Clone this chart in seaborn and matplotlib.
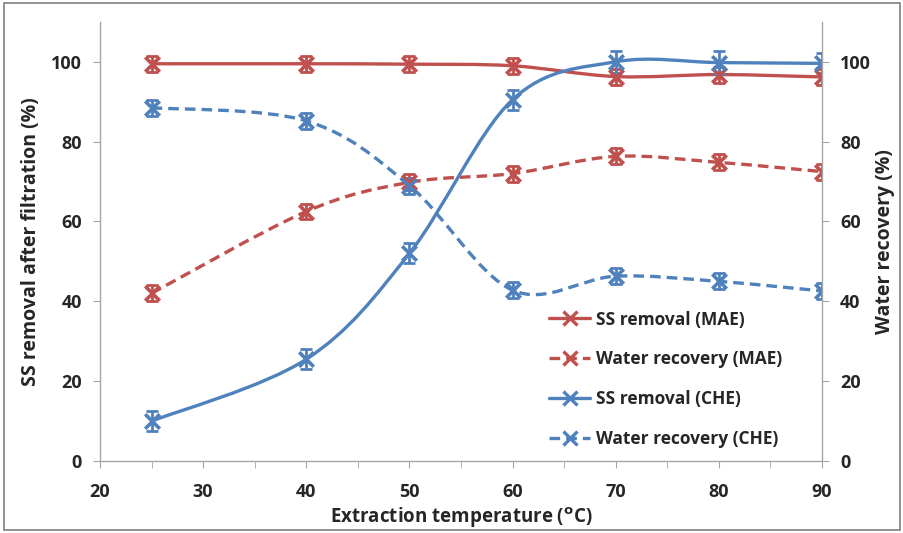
import numpy as np
import seaborn as sns
import matplotlib
matplotlib.use("Agg")
import matplotlib.pyplot as plt
from matplotlib.path import Path
from matplotlib.patches import PathPatch, Rectangle
from matplotlib.lines import Line2D

# values
temperature = [25, 40, 50, 60, 70, 80, 90]
ss_mae = [99.5, 99.5, 99.4, 99.0, 96.3, 96.8, 96.2]
water_mae = [42.0, 62.5, 69.8, 72.0, 76.3, 74.8, 72.5]
ss_che = [10.0, 25.5, 52.0, 90.5, 100.0, 99.8, 99.6]
water_che = [88.5, 85.2, 69.0, 42.8, 46.3, 45.0, 42.6]
err_ss_mae = [2.0, 2.0, 2.0, 2.0, 2.0, 2.0, 2.0]
err_water_mae = [2.0, 2.0, 2.0, 2.0, 2.0, 2.0, 2.0]
err_ss_che = [2.5, 2.5, 2.5, 2.5, 2.8, 2.8, 2.5]
err_water_che = [2.0, 2.0, 2.0, 2.0, 2.0, 2.0, 2.0]

labels = ["SS removal (MAE)", "Water recovery (MAE)",
          "SS removal (CHE)", "Water recovery (CHE)"]

RED = "#C0504D"
BLUE = "#4F81BD"
DASH = (3.2, 1.8)


def smooth_path(x, y):
    """Excel-like smoothed line built from bezier segments."""
    pts = np.column_stack([x, y]).astype(float)
    verts = [pts[0]]
    codes = [Path.MOVETO]
    n = len(pts)
    for i in range(n - 1):
        p0 = pts[max(i - 1, 0)]
        p1 = pts[i]
        p2 = pts[i + 1]
        p3 = pts[min(i + 2, n - 1)]
        verts += [p1 + (p2 - p0) / 6, p2 - (p3 - p1) / 6, p2]
        codes += [Path.CURVE4] * 3
    return Path(verts, codes)


sns.set_style("white")
plt.rcParams["font.family"] = ["Open Sans", "DejaVu Sans"]
plt.rcParams["font.weight"] = "bold"
plt.rcParams["mathtext.default"] = "bf"

fig = plt.figure(figsize=(9.04, 5.33), dpi=100)
ax = fig.add_axes([0.1106, 0.135, 0.7986, 0.824])

series = [
    (ss_mae, err_ss_mae, RED, "-"),
    (water_mae, err_water_mae, RED, "--"),
    (ss_che, err_ss_che, BLUE, "-"),
    (water_che, err_water_che, BLUE, "--"),
]

handles = []
for (vals, err, col, ls), lab in zip(series, labels):
    patch = PathPatch(smooth_path(temperature, vals), fill=False,
                      edgecolor=col, lw=2.4, capstyle="butt", zorder=2)
    if ls == "--":
        patch.set_linestyle((0, DASH))
    ax.add_patch(patch)
    ax.errorbar(temperature, vals, yerr=err, fmt="none", ecolor=col,
                elinewidth=2.0, capsize=4, capthick=2.0, zorder=3)
    sns.scatterplot(x=temperature, y=vals, marker="x", color=col, s=110,
                    linewidth=2.6, ax=ax, zorder=4, legend=False)
    h = Line2D([], [], color=col, lw=2.4, marker="x", markersize=10,
               markeredgewidth=2.4)
    if ls == "--":
        h.set_dashes(DASH)
    handles.append(h)

ax.set_xlim(20, 90)
ax.set_ylim(0, 110)
ax.set_xticks(range(20, 91, 10))
ax.set_xticks(range(25, 90, 10), minor=True)
ax.set_yticks(range(0, 101, 20))

for side in ["top", "right"]:
    ax.spines[side].set_visible(False)
for side in ["left", "bottom"]:
    ax.spines[side].set_color("#A6A6A6")
    ax.spines[side].set_linewidth(1.0)

ax.tick_params(axis="both", which="both", direction="out", length=5,
               color="#A6A6A6", labelsize=13, pad=8)
ax.tick_params(axis="x", which="both", bottom=True, pad=11)
ax.tick_params(axis="y", left=True)

ax.set_xlabel("Extraction temperature ($^{o}$C)", fontsize=13.5,
              fontweight="bold", labelpad=3)
ax.set_ylabel("SS removal after filtration (%)", fontsize=14,
              fontweight="bold", labelpad=7)

ax2 = ax.twinx()
ax2.set_ylim(0, 110)
ax2.set_yticks(range(0, 101, 20))
for side in ["top", "left", "bottom"]:
    ax2.spines[side].set_visible(False)
ax2.spines["right"].set_color("#A6A6A6")
ax2.spines["right"].set_linewidth(1.0)
ax2.tick_params(axis="y", direction="out", length=5, color="#A6A6A6",
                labelsize=13, pad=8, right=True)
ax2.set_ylabel("Water recovery (%)", fontsize=14, fontweight="bold",
               labelpad=3)

ax.legend(handles, labels, loc="lower left", bbox_to_anchor=(0.6, -0.005),
          frameon=False, handlelength=2.4, handletextpad=0.3,
          labelspacing=1.25, prop={"weight": "bold", "size": 12.5})

fig.add_artist(Rectangle((0.004, 0.006), 0.992, 0.988, transform=fig.transFigure,
                         fill=False, edgecolor="#7F7F7F", lw=1.2))

fig.savefig("out.png", dpi=100)
